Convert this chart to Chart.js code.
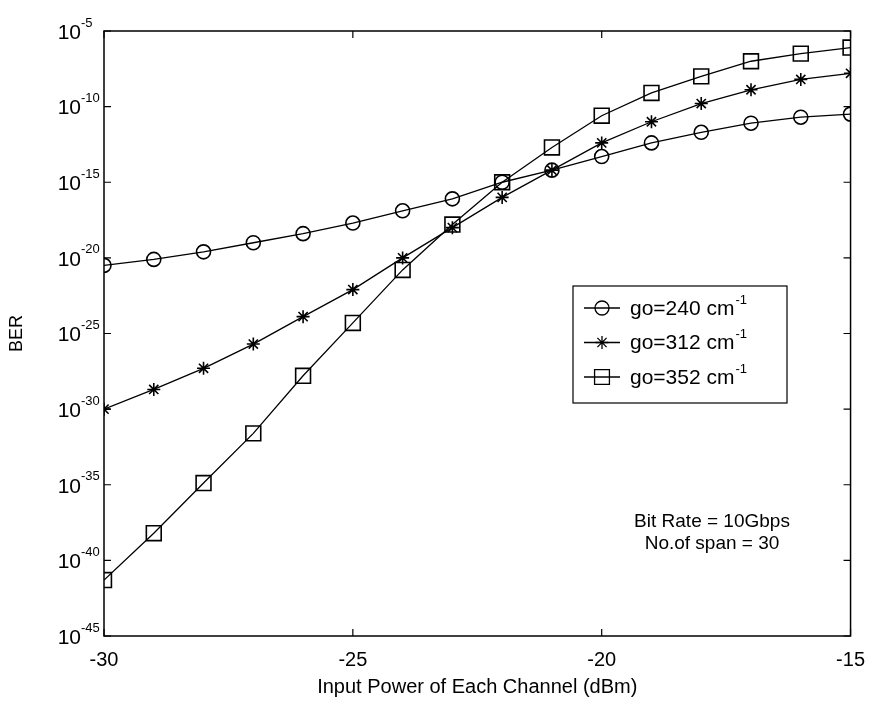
<!DOCTYPE html>
<html>
<head>
<meta charset="utf-8">
<script src="https://cdn.jsdelivr.net/npm/chart.js@4/dist/chart.umd.min.js"></script>
<style>
  html, body { margin: 0; padding: 0; background: #fff; }
  #wrap { position: relative; width: 869px; height: 701px; }
</style>
</head>
<body>
<div id="wrap"><canvas id="ber"></canvas></div>
<script>
// データ
const power = [-30, -29, -28, -27, -26, -25, -24, -23, -22, -21, -20, -19, -18, -17, -16, -15];
const ber240 = [3.2e-21, 7.9e-21, 2.5e-20, 1e-19, 4e-19, 2e-18, 1.3e-17, 8e-17, 1e-15, 6.3e-15, 5e-14, 4e-13, 2e-12, 8e-12, 2e-11, 3.2e-11];
const ber312 = [1e-30, 2e-29, 5e-28, 2e-26, 1.3e-24, 8e-23, 1e-20, 1e-18, 1e-16, 6.3e-15, 4e-13, 1e-11, 1.6e-10, 1.3e-9, 6.3e-9, 1.6e-8];
const ber352 = [5e-42, 6.3e-39, 1.3e-35, 2.5e-32, 1.6e-28, 5e-25, 1.6e-21, 1.6e-18, 1e-15, 2e-13, 2.5e-11, 8e-10, 1e-8, 1e-7, 3.2e-7, 8e-7];
const seriesNames = ['go=240 cm', 'go=312 cm', 'go=352 cm'];
const unitExp = '-1';
const xTicks = [-30, -25, -20, -15];
const yTicks = [1e-45, 1e-40, 1e-35, 1e-30, 1e-25, 1e-20, 1e-15, 1e-10, 1e-5];
const noteLines = ['Bit Rate = 10Gbps', 'No.of span = 30'];

const FONT = "'Liberation Sans', Arial, sans-serif";

function toPoints(ys) {
  return power.map((x, i) => ({x: x, y: ys[i]}));
}

// 枠・内向きの目盛り・y軸の 10^n ラベル
const boxPlugin = {
  id: 'box',
  afterDatasetsDraw(chart) {
    const ctx = chart.ctx;
    const a = chart.chartArea;
    const xs = chart.scales.x, ys = chart.scales.y;
    ctx.save();
    ctx.strokeStyle = '#000';
    ctx.lineWidth = 1.5;
    ctx.strokeRect(a.left, a.top, a.right - a.left, a.bottom - a.top);
    ctx.lineWidth = 1.2;
    ctx.beginPath();
    xTicks.forEach(v => {
      const px = xs.getPixelForValue(v);
      ctx.moveTo(px, a.bottom); ctx.lineTo(px, a.bottom - 7);
      ctx.moveTo(px, a.top); ctx.lineTo(px, a.top + 7);
    });
    yTicks.forEach(v => {
      const py = ys.getPixelForValue(v);
      ctx.moveTo(a.left, py); ctx.lineTo(a.left + 7, py);
      ctx.moveTo(a.right, py); ctx.lineTo(a.right - 7, py);
    });
    ctx.stroke();

    ctx.fillStyle = '#000';
    ctx.textBaseline = 'middle';
    const lx = a.left - 23;
    yTicks.forEach(v => {
      const py = ys.getPixelForValue(v);
      ctx.font = '21px ' + FONT;
      ctx.textAlign = 'right';
      ctx.fillText('10', lx, py + 2);
      ctx.font = '13px ' + FONT;
      ctx.textAlign = 'left';
      ctx.fillText(String(Math.round(Math.log10(v))), lx, py - 8);
    });
    ctx.restore();
  }
};

// 凡例と注記（グラフの中）
const legendPlugin = {
  id: 'inLegend',
  afterDraw(chart) {
    const ctx = chart.ctx;
    ctx.save();
    ctx.fillStyle = '#fff';
    ctx.fillRect(573, 286, 214, 117);
    ctx.strokeStyle = '#000';
    ctx.lineWidth = 1.2;
    ctx.strokeRect(573, 286, 214, 117);
    chart.data.datasets.forEach((ds, i) => {
      const y = 308 + i * 34.5;
      ctx.beginPath();
      ctx.lineWidth = 1.3;
      ctx.moveTo(584, y); ctx.lineTo(620, y);
      ctx.stroke();
      ctx.fillStyle = 'rgba(0,0,0,0)';
      Chart.helpers.drawPoint(ctx, {pointStyle: ds.pointStyle, radius: ds.pointRadius, borderWidth: 1.5}, 602, y);
      ctx.fillStyle = '#000';
      ctx.font = '21px ' + FONT;
      ctx.textBaseline = 'middle';
      ctx.textAlign = 'left';
      ctx.fillText(ds.label, 630, y + 1);
      const w = ctx.measureText(ds.label).width;
      ctx.font = '13px ' + FONT;
      ctx.fillText(unitExp, 630 + w + 1, y - 8);
    });
    ctx.font = '19px ' + FONT;
    ctx.textAlign = 'center';
    noteLines.forEach((t, i) => ctx.fillText(t, 712, 522 + i * 22));
    ctx.restore();
  }
};

const ctx = document.getElementById('ber').getContext('2d');
const berChart = new Chart(ctx, {
  type: 'line',
  data: {
    datasets: [
      {label: seriesNames[0], data: toPoints(ber240), pointStyle: 'circle', pointRadius: 7},
      {label: seriesNames[1], data: toPoints(ber312), pointStyle: 'star', pointRadius: 6.5},
      {label: seriesNames[2], data: toPoints(ber352), pointStyle: 'rect', pointRadius: 10.5}
    ].map(d => Object.assign(d, {
      borderColor: '#000',
      backgroundColor: 'rgba(0,0,0,0)',
      pointBorderColor: '#000',
      pointBackgroundColor: 'rgba(0,0,0,0)',
      borderWidth: 1.3,
      pointBorderWidth: 1.6,
      pointHoverRadius: 7,
      tension: 0
    }))
  },
  options: {
    responsive: true,
    maintainAspectRatio: false,
    animation: false,
    layout: {autoPadding: false, padding: {left: 0, right: 14, top: 31, bottom: 0}},
    plugins: {
      legend: {display: false},
      tooltip: {enabled: false}
    },
    scales: {
      x: {
        type: 'linear',
        min: -30, max: -15,
        afterBuildTicks: s => { s.ticks = xTicks.map(v => ({value: v})); },
        afterFit: s => { s.height = 65; },
        grid: {display: false},
        border: {display: false},
        ticks: {color: '#000', font: {family: FONT, size: 20}, padding: 4},
        title: {display: true, text: 'Input Power of Each Channel (dBm)', color: '#000',
                font: {family: FONT, size: 20}, padding: {top: 0, bottom: 2}}
      },
      y: {
        type: 'logarithmic',
        min: 1e-45, max: 1e-5,
        afterBuildTicks: s => { s.ticks = yTicks.map(v => ({value: v})); },
        afterFit: s => { s.width = 104; },
        grid: {display: false},
        border: {display: false},
        ticks: {callback: () => ''},
        title: {display: true, text: 'BER', color: '#000',
                font: {family: FONT, size: 18}, padding: {top: 6, bottom: 0}}
      }
    }
  },
  plugins: [boxPlugin, legendPlugin]
});
</script>
</body>
</html>
